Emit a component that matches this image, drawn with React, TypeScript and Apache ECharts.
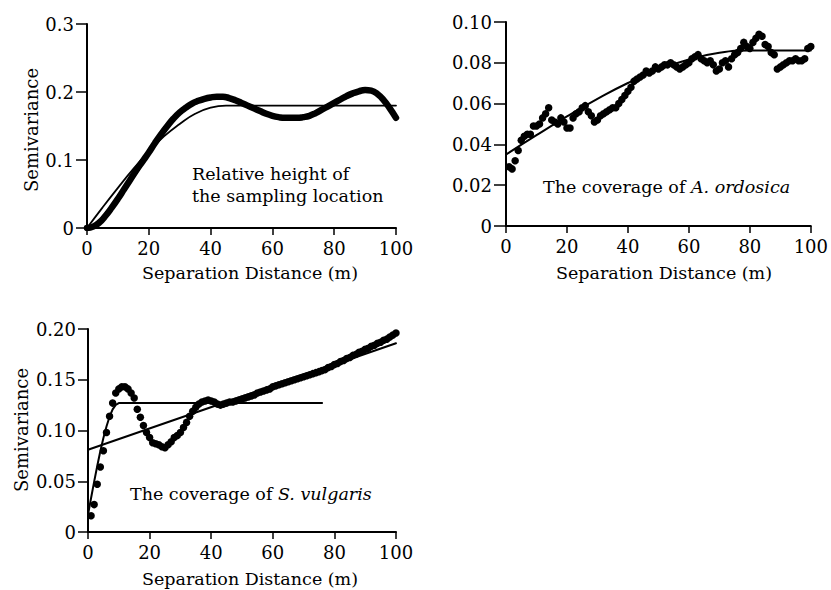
import React, { useEffect, useRef } from "react";
import * as echarts from "echarts";

const FONT = "DejaVu Serif";

// ---------- tick labels ----------
const xTickLabels = ["0", "20", "40", "60", "80", "100"];
const y1TickLabels = ["0", "0.1", "0.2", "0.3"];
const y2TickLabels = ["0", "0.02", "0.04", "0.06", "0.08", "0.10"];
const y3TickLabels = ["0", "0.05", "0.10", "0.15", "0.20"];

// ---------- panel 1: relative height ----------
const p1ThickX = [0, 2, 4, 6, 8, 10, 12, 14, 16, 18, 20, 22, 24, 26, 28, 30, 32, 34, 36, 38, 40, 42, 44, 46, 48, 50, 52, 54, 56, 58, 60, 62, 64, 66, 68, 70, 72, 74, 76, 78, 80, 82, 84, 86, 88, 90, 92, 94, 96, 98, 100];
const p1Thick = [0.0, 0.002, 0.008, 0.018, 0.03, 0.043, 0.057, 0.071, 0.085, 0.098, 0.111, 0.125, 0.138, 0.15, 0.161, 0.17, 0.177, 0.183, 0.187, 0.19, 0.192, 0.193, 0.193, 0.191, 0.188, 0.184, 0.18, 0.176, 0.172, 0.168, 0.165, 0.163, 0.162, 0.162, 0.162, 0.163, 0.165, 0.169, 0.174, 0.179, 0.184, 0.189, 0.194, 0.198, 0.201, 0.203, 0.202, 0.197, 0.188, 0.176, 0.162];
const p1FitX = [0, 5, 10, 15, 20, 25, 30, 35, 40, 45, 100];
const p1Fit = [0, 0.03, 0.059, 0.087, 0.112, 0.135, 0.153, 0.168, 0.177, 0.18, 0.18];

// ---------- panel 2: A. ordosica ----------
const lags = Array.from({ length: 100 }, (_, i) => i + 1);
const p2Dots = [
  0.029, 0.028, 0.032, 0.037, 0.042, 0.044, 0.045, 0.045, 0.049, 0.049,
  0.05, 0.053, 0.055, 0.058, 0.052, 0.051, 0.05, 0.053, 0.051, 0.048,
  0.048, 0.053, 0.055, 0.056, 0.058, 0.059, 0.056, 0.054, 0.051, 0.052,
  0.054, 0.055, 0.056, 0.057, 0.058, 0.058, 0.06, 0.062, 0.064, 0.066,
  0.068, 0.071, 0.072, 0.073, 0.074, 0.076, 0.075, 0.076, 0.078, 0.077,
  0.078, 0.079, 0.079, 0.08, 0.079, 0.078, 0.077, 0.078, 0.079, 0.08,
  0.082, 0.083, 0.084, 0.082, 0.081, 0.08, 0.081, 0.079, 0.076, 0.077,
  0.08, 0.081, 0.078, 0.082, 0.084, 0.085, 0.087, 0.09, 0.088, 0.087,
  0.09, 0.092, 0.094, 0.093, 0.089, 0.088, 0.085, 0.084, 0.077, 0.078,
  0.079, 0.08, 0.081, 0.081, 0.082, 0.081, 0.081, 0.082, 0.087, 0.088,
];
const p2FitX = [0, 10, 20, 30, 40, 50, 60, 70, 80, 100];
const p2Fit = [0.035, 0.0445, 0.0537, 0.0623, 0.0701, 0.0766, 0.0816, 0.0849, 0.086, 0.086];

// ---------- panel 3: S. vulgaris ----------
const p3Dots = [
  0.016, 0.027, 0.047, 0.064, 0.08, 0.098, 0.114, 0.127, 0.137, 0.141,
  0.143, 0.143, 0.141, 0.137, 0.132, 0.121, 0.113, 0.105, 0.098, 0.093,
  0.088, 0.087, 0.086, 0.084, 0.083, 0.086, 0.089, 0.093, 0.095, 0.098,
  0.103, 0.108, 0.114, 0.119, 0.123, 0.126, 0.128, 0.129, 0.13, 0.129,
  0.128, 0.126, 0.125, 0.126, 0.127, 0.128, 0.128, 0.129, 0.13, 0.131,
  0.132, 0.133, 0.134, 0.135, 0.137, 0.138, 0.139, 0.14, 0.141, 0.143,
  0.144, 0.145, 0.146, 0.147, 0.148, 0.149, 0.15, 0.151, 0.152, 0.153,
  0.154, 0.155, 0.156, 0.157, 0.158, 0.159, 0.16, 0.162, 0.163, 0.165,
  0.166, 0.168, 0.169, 0.171, 0.172, 0.174, 0.175, 0.177, 0.178, 0.18,
  0.181, 0.183, 0.184, 0.186, 0.187, 0.189, 0.19, 0.192, 0.194, 0.196,
];
const p3SphX = [0, 1, 2, 3, 4, 5, 6, 7, 8, 9, 10, 76];
const p3Sph = [0.017, 0.0335, 0.0496, 0.065, 0.0795, 0.0926, 0.104, 0.1136, 0.1208, 0.1253, 0.127, 0.127];
const p3LinX = [0, 100];
const p3Lin = [0.081, 0.186];

const pairs = (xs: number[], ys: number[]) => xs.map((x, i) => [x, ys[i]]);

const tickFmt = (labels: string[], step: number) => (v: number) => labels[Math.round(v / step)] ?? "";

const textStyle = { color: "#000", fontFamily: FONT, fontSize: 18 };

function makeX(gridIndex: number) {
  return {
    type: "value",
    gridIndex,
    min: 0,
    max: 100,
    interval: 20,
    axisLine: { show: true, onZero: false, lineStyle: { color: "#000", width: 2 } },
    axisTick: { show: true, length: 7, lineStyle: { color: "#000", width: 1.5 } },
    axisLabel: { ...textStyle, margin: 11, formatter: tickFmt(xTickLabels, 20) },
    splitLine: { show: false },
  };
}

function makeY(gridIndex: number, max: number, step: number, labels: string[], tickLen: number) {
  return {
    type: "value",
    gridIndex,
    min: 0,
    max,
    interval: step,
    axisLine: { show: true, onZero: false, lineStyle: { color: "#000", width: 2 } },
    axisTick: { show: true, length: tickLen, lineStyle: { color: "#000", width: 1.5 } },
    axisLabel: { ...textStyle, margin: tickLen + 2, formatter: tickFmt(labels, step) },
    splitLine: { show: false },
  };
}

const lineSeries = (xi: number, data: number[][], width: number, smooth: any = false) => ({
  type: "line",
  xAxisIndex: xi,
  yAxisIndex: xi,
  data,
  symbol: "none",
  showSymbol: false,
  smooth,
  lineStyle: { color: "#000", width, cap: "round", join: "round" },
  z: 3,
});

const dotSeries = (xi: number, data: number[][], size: number) => ({
  type: "scatter",
  xAxisIndex: xi,
  yAxisIndex: xi,
  data,
  symbol: "circle",
  symbolSize: size,
  itemStyle: { color: "#000", opacity: 1 },
  z: 2,
});

const label = (x: number, y: number, text: string, extra: any = {}) => ({
  type: "text",
  x,
  y,
  silent: true,
  ...extra,
  style: {
    text,
    fill: "#000",
    fontFamily: FONT,
    fontSize: 18,
    align: "center",
    verticalAlign: "middle",
    textAlign: "center",
    textVerticalAlign: "middle",
    ...(extra.style || {}),
  },
});

const italicRich = { i: { fontStyle: "italic", fontFamily: FONT, fontSize: 17.5, fill: "#000" } };

const option: any = {
  animation: false,
  backgroundColor: "#fff",
  textStyle: { fontFamily: FONT },
  grid: [
    { left: 87, top: 24, width: 309, height: 204 },
    { left: 506, top: 22, width: 306, height: 204 },
    { left: 88, top: 329, width: 308, height: 203 },
  ],
  xAxis: [makeX(0), makeX(1), makeX(2)],
  yAxis: [
    makeY(0, 0.3, 0.1, y1TickLabels, 11),
    makeY(1, 0.1, 0.02, y2TickLabels, 12),
    makeY(2, 0.2, 0.05, y3TickLabels, 10),
  ],
  series: [
    lineSeries(0, pairs(p1ThickX, p1Thick), 6.5, true),
    lineSeries(0, pairs(p1FitX, p1Fit), 1.8, true),
    dotSeries(1, pairs(lags, p2Dots), 7.5),
    lineSeries(1, pairs(p2FitX, p2Fit), 2, true),
    dotSeries(2, pairs(lags, p3Dots), 7.5),
    lineSeries(2, pairs(p3SphX, p3Sph), 2, false),
    lineSeries(2, pairs(p3LinX, p3Lin), 2, false),
  ],
  graphic: [
    label(31, 130, "Semivariance", { rotation: Math.PI / 2 }),
    label(21, 430, "Semivariance", { rotation: Math.PI / 2 }),
    label(250, 273, "Separation Distance (m)", { style: { fontSize: 17.5 } }),
    label(664, 273, "Separation Distance (m)", { style: { fontSize: 17.5 } }),
    label(250, 579, "Separation Distance (m)", { style: { fontSize: 17.5 } }),
    label(192, 185, "Relative height of\nthe sampling location", {
      style: { align: "left", textAlign: "left", lineHeight: 22, fontSize: 17.5 },
    }),
    label(543, 187, "The coverage of {i|A. ordosica}", {
      style: { align: "left", textAlign: "left", rich: italicRich, fontSize: 17.5 },
    }),
    label(130, 494, "The coverage of {i|S. vulgaris}", {
      style: { align: "left", textAlign: "left", rich: italicRich, fontSize: 17.5 },
    }),
  ],
};

export default function App() {
  const ref = useRef<HTMLDivElement>(null);
  useEffect(() => {
    const chart = echarts.init(ref.current!, null, { renderer: "svg" });
    chart.setOption(option);
    return () => chart.dispose();
  }, []);
  return (
    <div
      ref={ref}
      style={{ position: "fixed", left: 0, top: 0, width: 831, height: 590, background: "#fff" }}
    />
  );
}
